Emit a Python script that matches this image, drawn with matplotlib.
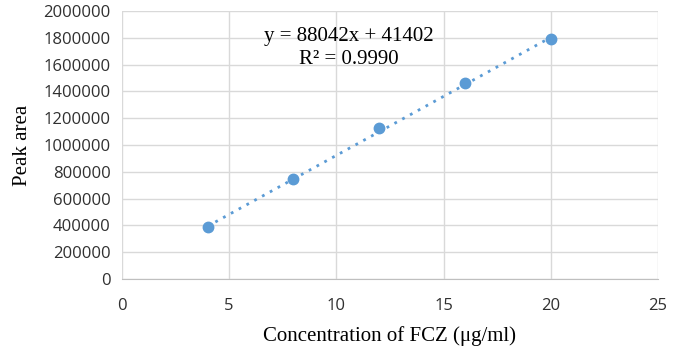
import matplotlib.pyplot as plt
import numpy as np

# calibration data
conc = [4, 8, 12, 16, 20]
area = [390000, 745000, 1125000, 1465000, 1790000]
slope = 88042
intercept = 41402
r2_text = "R² = 0.9990"
eq_text = "y = 88042x + 41402"

blue = '#5B9BD5'
grid = '#D9D9D9'

fig = plt.figure(figsize=(6.84, 3.51), dpi=100)
ax = fig.add_axes([0.178, 0.205, 0.784, 0.764])

xs = np.array([conc[0], conc[-1]])
ax.plot(xs, slope * xs + intercept, linestyle=(0, (1, 2.2)), color=blue, linewidth=2, zorder=2)
ax.plot(conc, area, 'o', color=blue, markersize=7.5, zorder=3)

ax.set_xlim(0, 25)
ax.set_ylim(0, 2000000)
ax.set_xticks(range(0, 26, 5))
ax.set_yticks(range(0, 2000001, 200000))
ax.set_yticklabels([str(v) for v in range(0, 2000001, 200000)])
ax.grid(True, color=grid, linewidth=1)
ax.set_axisbelow(True)
for s in ['top', 'right', 'left']:
    ax.spines[s].set_visible(False)
ax.spines['bottom'].set_color('#BFBFBF')
ax.tick_params(length=0, labelsize=12, colors='#303030', pad=8)
ax.tick_params(axis='x', pad=14)
for lab in ax.get_xticklabels() + ax.get_yticklabels():
    lab.set_fontfamily('Open Sans')

ax.set_xlabel('Concentration of FCZ (μg/ml)', fontfamily='Liberation Serif', fontsize=15, labelpad=8)
ax.set_ylabel('Peak area', fontfamily='Liberation Serif', fontsize=15, labelpad=8)

ax.text(10.6, 1806000, eq_text, ha='center', va='center', fontfamily='Liberation Serif', fontsize=15)
ax.text(10.6, 1634000, r2_text, ha='center', va='center', fontfamily='Liberation Serif', fontsize=15)

fig.savefig('out.png', dpi=100)
